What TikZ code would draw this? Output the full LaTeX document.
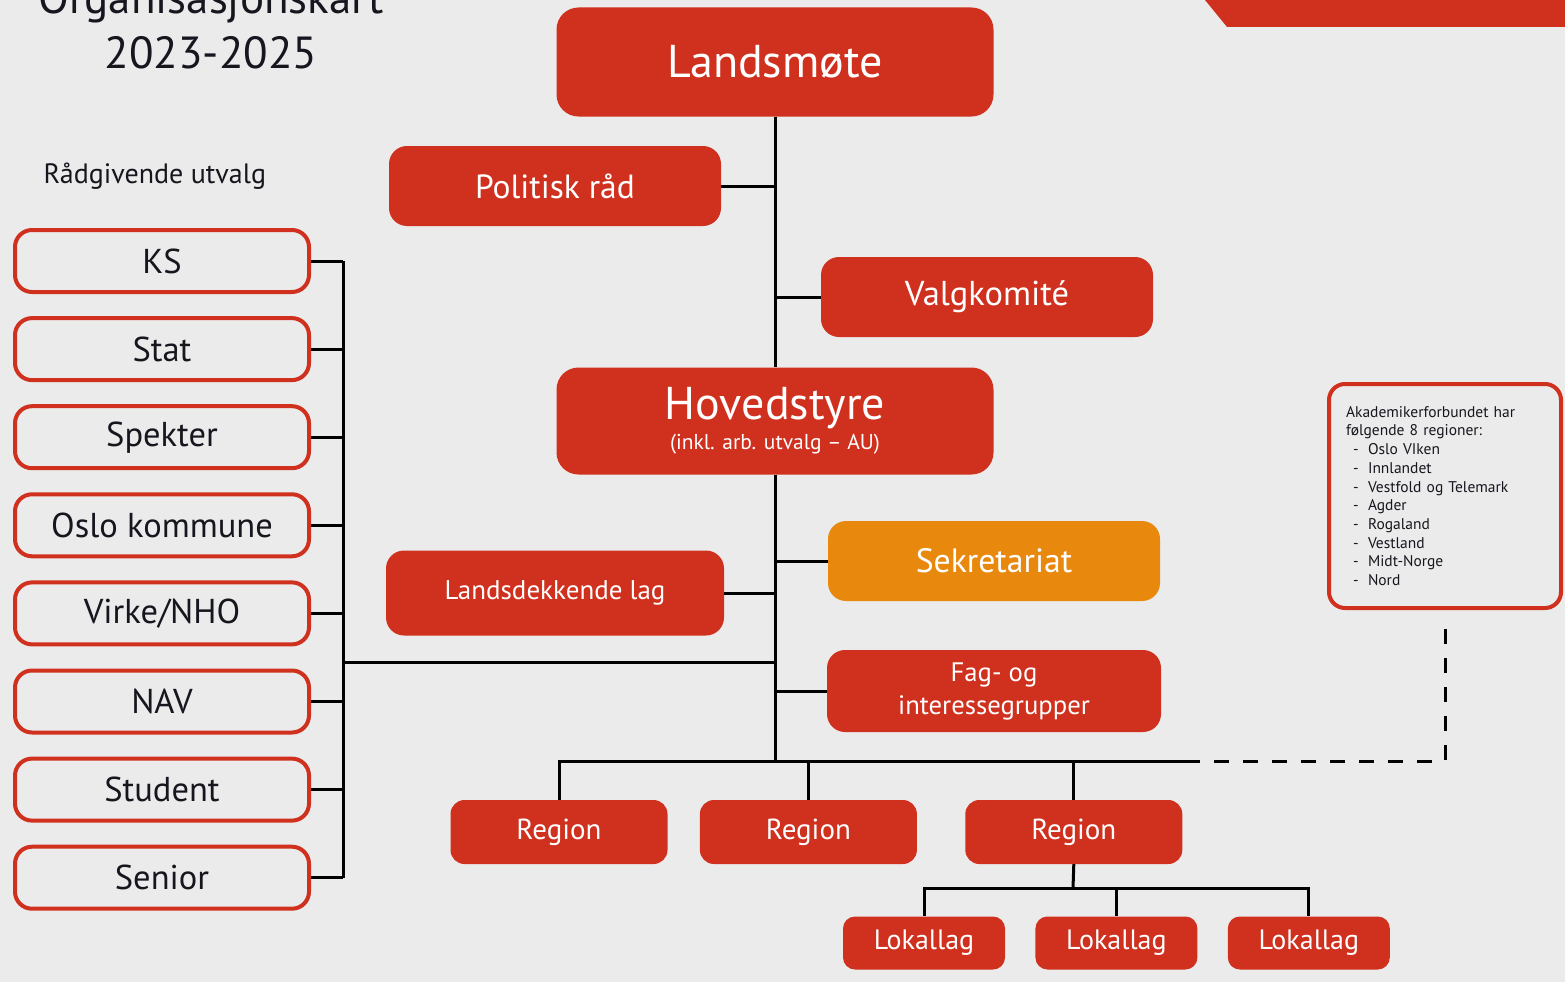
\documentclass[tikz,border=0pt]{standalone}
\usepackage{fontspec}
\setmainfont{PT Sans}
\usetikzlibrary{positioning}
\definecolor{akred}{HTML}{D0301E}
\definecolor{akorange}{HTML}{E8890E}
\definecolor{paper}{HTML}{EBEBEB}
\definecolor{ink}{HTML}{16161E}
\newcommand{\fsz}[2]{\fontsize{#1}{#2}\selectfont}
\tikzset{
  organ/.style   ={rounded corners=18pt, fill=#1, text=white, align=center, inner sep=2pt},
  organ/.default =akred,
  utvalg/.style  ={rounded corners=17pt, draw=akred, line width=4pt, fill=paper, text=ink,
                   font=\fsz{34.5}{38}, minimum width=294pt, minimum height=62pt},
  region/.style  ={organ, rounded corners=14pt, font=\fsz{29}{32}, minimum width=217pt, minimum height=64pt},
  lokal/.style   ={organ, rounded corners=12pt, font=\fsz{28}{31}, minimum width=162pt, minimum height=53pt},
  link/.style    ={line width=3pt},
  dashlink/.style={line width=3pt, dash pattern=on 15pt off 14pt, dash phase=15pt},
}
\begin{document}
\begin{tikzpicture}[x=1pt, y=-1pt]
\useasboundingbox[fill=paper] (0,0) rectangle (1565,982);
\fill[akred] (1205,0) -- (1227,27) -- (1565,27) -- (1565,0) -- cycle;
% title
\node[anchor=base, text=ink, font=\fsz{45}{50}] (titel1) at (211,14) {Organisasjonskart};
\node[anchor=base, text=ink, font=\fsz{45}{50}] (titel2) at (211,68) {2023-2025};
% main organs
\node[organ, rounded corners=22pt, minimum width=437pt, minimum height=109pt, font=\fsz{46}{50}] (landsmote) at (775,62) {Landsmøte};
\node[organ, minimum width=332pt, minimum height=80pt, font=\fsz{33.5}{36}] (politisk) at (555,186) {Politisk råd};
\node[organ, minimum width=332pt, minimum height=80pt, font=\fsz{34.5}{38}] (valg) at (987,297) {Valgkomité};
\node[organ, rounded corners=22pt, minimum width=437pt, minimum height=107pt] (hoved) at (775,421)
  {\fsz{46}{44}Hovedstyre\\[4pt] \fsz{21.5}{24}(inkl. arb. utvalg – AU)};
\node[organ=akorange, minimum width=332pt, minimum height=80pt, font=\fsz{33.7}{36}] (sekr) at (994,561) {Sekretariat};
\node[organ, minimum width=338pt, minimum height=85pt, font=\fsz{27}{30}] (landsdek) at (555,593) {Landsdekkende lag};
\node[organ, minimum width=334pt, minimum height=82pt, font=\fsz{26.7}{33}] (fag) at (994,691) {Fag- og\\interessegrupper};
% regions and local branches
\node[region] (reg1) at (559,832) {Region};
\node[region, right=32pt of reg1] (reg2) {Region};
\node[region, right=48pt of reg2] (reg3) {Region};
\node[lokal] (lok1) at (924,943) {Lokallag};
\node[lokal, right=30pt of lok1] (lok2) {Lokallag};
\node[lokal, right=30pt of lok2] (lok3) {Lokallag};
% advisory committees
\node[anchor=west, text=ink, font=\fsz{28}{31}] (raad) at (40,176) {Rådgivende utvalg};
\foreach \lbl [count=\i] in {KS,Stat,Spekter,Oslo kommune,Virke/NHO,NAV,Student,Senior}
  \node[utvalg] (u\i) at (162,{261+88.1*(\i-1)}) {\lbl};
% region list
\node[draw=akred, line width=4pt, rounded corners=16pt, fill=paper, minimum width=232pt, minimum height=224pt,
      text width=198pt, align=left, text=ink, font=\fsz{15.5}{18.7}] (regioner) at (1445,496)
  {Akademikerforbundet har\\følgende 8 regioner:\\
   \hspace*{7pt}\makebox[15pt][l]{-}Oslo VIken\\
   \hspace*{7pt}\makebox[15pt][l]{-}Innlandet\\
   \hspace*{7pt}\makebox[15pt][l]{-}Vestfold og Telemark\\
   \hspace*{7pt}\makebox[15pt][l]{-}Agder\\
   \hspace*{7pt}\makebox[15pt][l]{-}Rogaland\\
   \hspace*{7pt}\makebox[15pt][l]{-}Vestland\\
   \hspace*{7pt}\makebox[15pt][l]{-}Midt-Norge\\
   \hspace*{7pt}\makebox[15pt][l]{-}Nord};
% connectors
\coordinate (regbus) at (775,761);
\coordinate (busend) at (1200,761);
\coordinate (lokbus) at (1073,888);
\coordinate (ubar) at (343,662);
\draw[link] (landsmote.south) -- (hoved.north);
\draw[link] (hoved.south) -- (regbus);
\draw[link] (politisk.east) -- (politisk.east -| landsmote.south);
\draw[link] (valg.west) -- (valg.west -| landsmote.south);
\draw[link] (sekr.west) -- (sekr.west -| landsmote.south);
\draw[link] (landsdek.east) -- (landsdek.east -| landsmote.south);
\draw[link] (fag.west) -- (fag.west -| landsmote.south);
\draw[link] (reg1.north) -- (reg1.north |- busend) -- (busend);
\draw[link] (reg2.north) -- (reg2.north |- busend);
\draw[link] (reg3.north) -- (reg3.north |- busend);
\draw[dashlink, shorten >=10pt] (busend) -| (regioner.south);
\draw[link] (reg3.south) -- (lokbus);
\draw[link] (lok1.north) -- (lok1.north |- lokbus) -- (lok3.north |- lokbus) -- (lok3.north);
\draw[link] (lok2.north) -- (lok2.north |- lokbus);
\foreach \i in {1,...,8} \draw[link] (u\i.east) -- (u\i.east -| ubar);
\draw[link] (u1.east -| ubar) -- (u8.east -| ubar);
\draw[link] (ubar) -- (ubar -| landsmote.south);
\end{tikzpicture}
\end{document}
